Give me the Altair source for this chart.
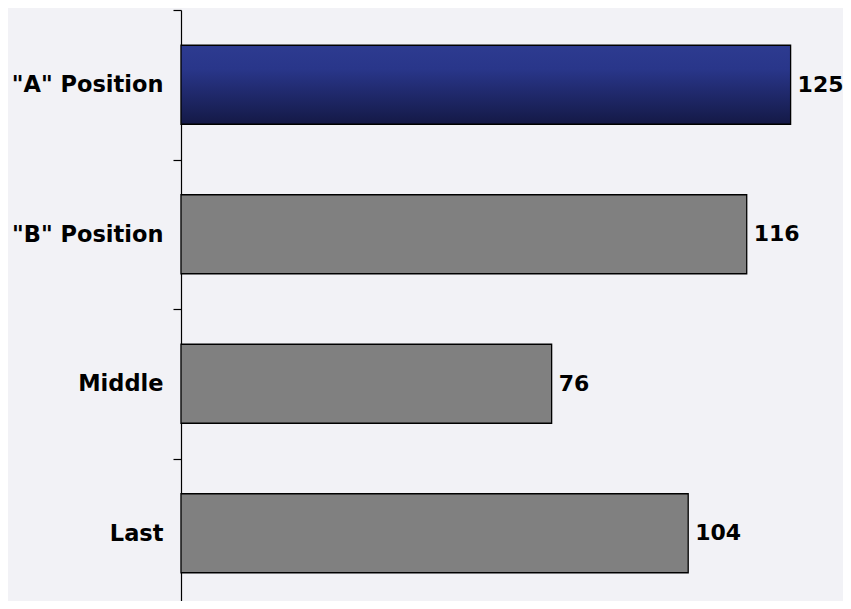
import altair as alt
import pandas as pd

categories = ['"A" Position', '"B" Position', 'Middle', 'Last']
values = [125, 116, 76, 104]
highlight = [True, False, False, False]

df = pd.DataFrame({"cat": categories, "val": values, "hl": highlight})

yenc = alt.Y(
    "cat:N",
    sort=categories,
    title=None,
    scale=alt.Scale(paddingInner=0, paddingOuter=0, range=[0, 598]),
    axis=alt.Axis(
        tickBand="extent",
        domainColor="black",
        domainWidth=1.2,
        tickColor="black",
        tickWidth=1.2,
        tickSize=8,
        labelPadding=10,
        labelFont="DejaVu Sans",
        labelFontWeight="bold",
        labelFontSize=22.5,
        labelColor="black",
        grid=False,
    ),
)
xenc = alt.X("val:Q", scale=alt.Scale(domain=[0, 130], nice=False), axis=None)

base = alt.Chart(df)

gray = base.transform_filter("!datum.hl").mark_bar(
    height=79, color="#808080", stroke="black", strokeWidth=1.3
).encode(x=xenc, y=yenc)

blue = base.transform_filter("datum.hl").mark_bar(
    height=79,
    color=alt.Gradient(
        gradient="linear",
        x1=0, y1=0, x2=0, y2=1,
        stops=[
            alt.GradientStop(offset=0, color="#2d3b90"),
            alt.GradientStop(offset=0.3, color="#29368a"),
            alt.GradientStop(offset=1, color="#141946"),
        ],
    ),
    stroke="black",
    strokeWidth=1.3,
).encode(x=xenc, y=yenc)

labels = base.mark_text(
    align="left", baseline="middle", dx=7,
    font="DejaVu Sans", fontWeight="bold", fontSize=22, color="black",
).encode(x=xenc, y=yenc, text="val:Q")

chart = (
    alt.layer(gray, blue, labels)
    .properties(
        width=634,
        height=591,
        autosize=alt.AutoSizeParams(type="none"),
        padding={"left": 173, "top": 2, "right": 28, "bottom": 0},
        background="#f2f2f6",
    )
    .configure_view(stroke=None)
)

chart.save("out.html", embed_options={"renderer": "svg", "actions": False})
